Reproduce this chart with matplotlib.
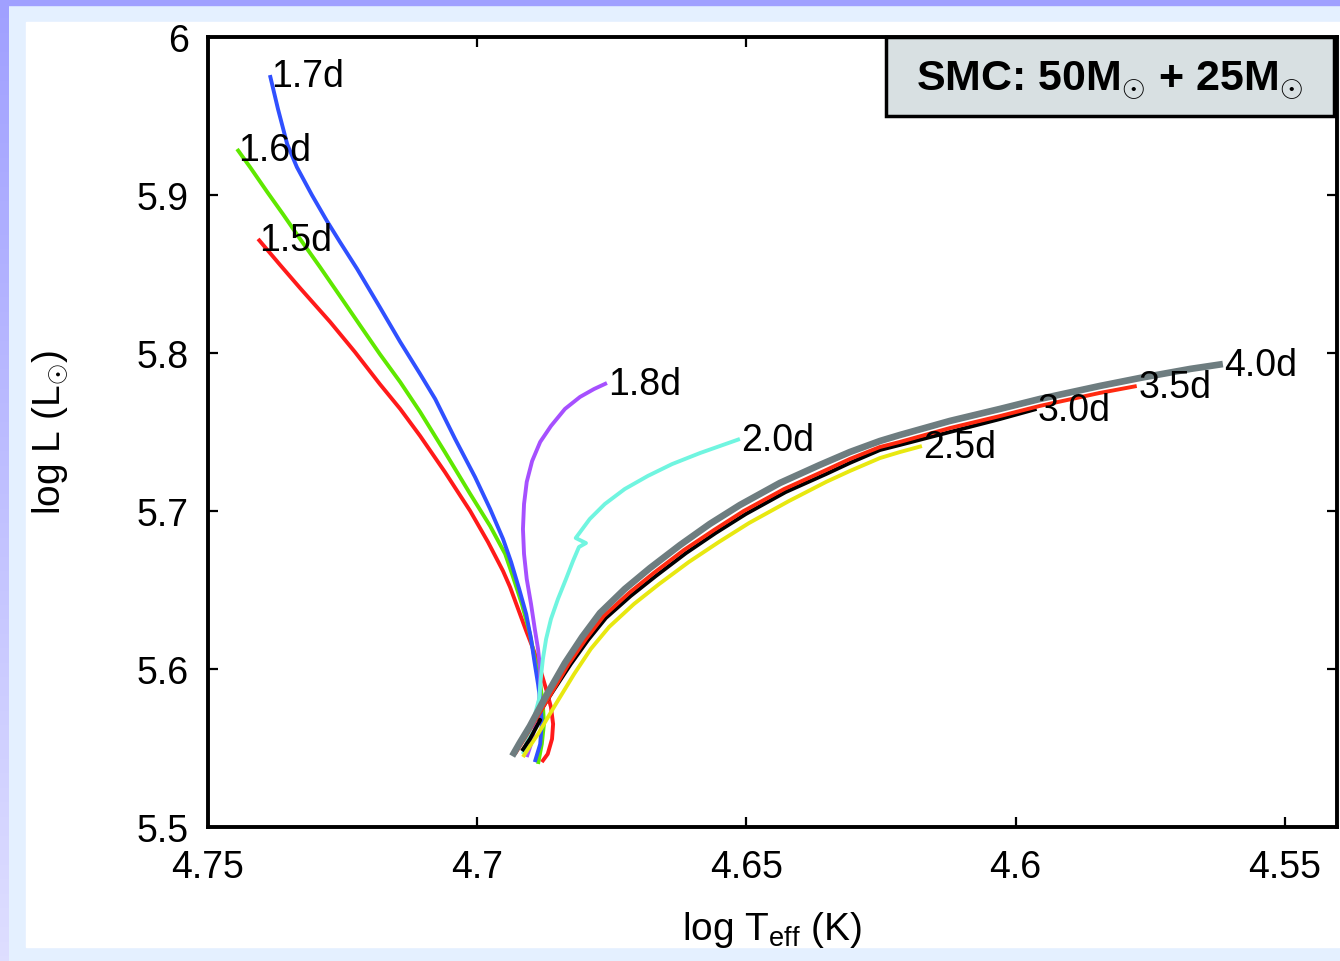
import numpy as np
import matplotlib.pyplot as plt
from matplotlib.patches import Rectangle
from matplotlib.colors import LinearSegmentedColormap

plt.rcParams['font.family'] = ['Liberation Sans', 'DejaVu Sans']
plt.rcParams['mathtext.fontset'] = 'custom'
plt.rcParams['mathtext.rm'] = 'Liberation Sans'
plt.rcParams['mathtext.it'] = 'Liberation Sans:italic'
plt.rcParams['mathtext.bf'] = 'Liberation Sans:bold'

# HR tracks of the primary for each initial orbital period (ZAMS -> end)
logT_15 = [4.6880, 4.6869, 4.6861, 4.6859, 4.6863, 4.6872, 4.6883, 4.6896, 4.6909, 4.6924, 4.6939, 4.6952,
           4.6980, 4.7013, 4.7060, 4.7106, 4.7143, 4.7181, 4.7227, 4.7273, 4.7329, 4.7366, 4.7407]
logL_15 = [5.5411, 5.5462, 5.5557, 5.5652, 5.5759, 5.5873, 5.6000, 5.6127, 5.6241, 5.6380, 5.6519, 5.6620,
           5.6804, 5.7000, 5.7247, 5.7475, 5.7646, 5.7804, 5.8006, 5.8196, 5.8411, 5.8557, 5.8722]

logT_16 = [4.6887, 4.6880, 4.6876, 4.6878, 4.6883, 4.6893, 4.6902, 4.6917, 4.6934, 4.6948, 4.6976, 4.7013,
           4.7060, 4.7106, 4.7143, 4.7181, 4.7218, 4.7255, 4.7292, 4.7329, 4.7361, 4.7390, 4.7422, 4.7446]
logL_16 = [5.5399, 5.5525, 5.5652, 5.5778, 5.5905, 5.6063, 5.6222, 5.6411, 5.6589, 5.6728, 5.6905, 5.7108,
           5.7373, 5.7627, 5.7816, 5.7994, 5.8177, 5.8361, 5.8544, 5.8722, 5.8880, 5.9019, 5.9177, 5.9291]

logT_17 = [4.6893, 4.6883, 4.6880, 4.6882, 4.6887, 4.6893, 4.6900, 4.6909, 4.6922, 4.6937, 4.6952, 4.6976, 4.7004,
           4.7041, 4.7078, 4.7106, 4.7143, 4.7181, 4.7223, 4.7255, 4.7279, 4.7307, 4.7335, 4.7353, 4.7370, 4.7385]
logL_17 = [5.5411, 5.5525, 5.5652, 5.5778, 5.5905, 5.6032, 5.6190, 5.6348, 5.6506, 5.6677, 5.6823, 5.7013, 5.7215,
           5.7456, 5.7709, 5.7867, 5.8070, 5.8291, 5.8532, 5.8703, 5.8835, 5.9000, 5.9177, 5.9323, 5.9544, 5.9759]

logT_18 = [4.6908, 4.6900, 4.6893, 4.6887, 4.6883, 4.6883, 4.6887, 4.6893, 4.6900, 4.6908, 4.6913, 4.6915,
           4.6913, 4.6908, 4.6898, 4.6883, 4.6863, 4.6837, 4.6809, 4.6783, 4.6759]
logL_18 = [5.5443, 5.5525, 5.5633, 5.5747, 5.5873, 5.6000, 5.6127, 5.6253, 5.6411, 5.6570, 5.6728, 5.6886,
           5.7044, 5.7184, 5.7316, 5.7437, 5.7538, 5.7646, 5.7722, 5.7772, 5.7810]

logT_20 = [4.6915, 4.6906, 4.6895, 4.6885, 4.6882, 4.6878, 4.6872, 4.6863, 4.6850, 4.6835, 4.6822, 4.6811,
           4.6798, 4.6817, 4.6791, 4.6763, 4.6726, 4.6683, 4.6638, 4.6586, 4.6512]
logL_20 = [5.5462, 5.5557, 5.5684, 5.5810, 5.5937, 5.6063, 5.6190, 5.6316, 5.6443, 5.6570, 5.6684, 5.6772,
           5.6797, 5.6829, 5.6949, 5.7044, 5.7139, 5.7222, 5.7297, 5.7367, 5.7456]

logT_25 = [4.6915, 4.6902, 4.6887, 4.6854, 4.6820, 4.6789, 4.6755, 4.6709, 4.6662, 4.6607, 4.6551, 4.6495,
           4.6421, 4.6352, 4.6308, 4.6252, 4.6215, 4.6174]
logL_25 = [5.5443, 5.5513, 5.5589, 5.5778, 5.5968, 5.6127, 5.6266, 5.6411, 5.6538, 5.6677, 5.6804, 5.6924,
           5.7063, 5.7184, 5.7253, 5.7335, 5.7373, 5.7411]

logT_30 = [4.6917, 4.6902, 4.6883, 4.6891, 4.6859, 4.6826, 4.6794, 4.6761, 4.6715, 4.6668, 4.6612, 4.6557,
           4.6501, 4.6427, 4.6352, 4.6308, 4.6252, 4.6215, 4.6122, 4.6029, 4.5961]
logL_30 = [5.5481, 5.5557, 5.5677, 5.5690, 5.5861, 5.6032, 5.6184, 5.6323, 5.6462, 5.6589, 5.6734, 5.6861,
           5.6981, 5.7120, 5.7234, 5.7304, 5.7386, 5.7418, 5.7500, 5.7582, 5.7646]

logT_35 = [4.6930, 4.6915, 4.6896, 4.6863, 4.6830, 4.6798, 4.6765, 4.6718, 4.6672, 4.6616, 4.6560, 4.6505,
           4.6430, 4.6356, 4.6308, 4.6252, 4.6215, 4.6122, 4.6029, 4.5955, 4.5844, 4.5775]
logL_35 = [5.5462, 5.5544, 5.5652, 5.5842, 5.6032, 5.6190, 5.6335, 5.6481, 5.6608, 5.6753, 5.6880, 5.7000,
           5.7139, 5.7253, 5.7329, 5.7405, 5.7437, 5.7525, 5.7601, 5.7665, 5.7747, 5.7791]

logT_40 = [4.6935, 4.6921, 4.6902, 4.6870, 4.6837, 4.6805, 4.6772, 4.6726, 4.6679, 4.6623, 4.6568, 4.6512,
           4.6438, 4.6364, 4.6308, 4.6252, 4.6215, 4.6122, 4.6029, 4.5955, 4.5844, 4.5769, 4.5676, 4.5615]
logL_40 = [5.5449, 5.5532, 5.5639, 5.5842, 5.6038, 5.6203, 5.6354, 5.6506, 5.6639, 5.6785, 5.6918, 5.7038,
           5.7177, 5.7291, 5.7373, 5.7443, 5.7481, 5.7570, 5.7646, 5.7709, 5.7791, 5.7842, 5.7899, 5.7930]

periods = ['1.5d', '1.6d', '1.7d', '1.8d', '2.0d', '2.5d', '3.0d', '3.5d', '4.0d']
tracks_T = [logT_15, logT_16, logT_17, logT_18, logT_20, logT_25, logT_30, logT_35, logT_40]
tracks_L = [logL_15, logL_16, logL_17, logL_18, logL_20, logL_25, logL_30, logL_35, logL_40]
colors = ['#ff1a1a', '#5fe800', '#3050ff', '#a650ff', '#70f5e0', '#e8e810', '#000000', '#ff2a10', '#6e7d80']
widths = [2.8, 2.8, 2.8, 2.8, 2.8, 2.8, 2.8, 2.8, 4.8]

xticks = [4.75, 4.7, 4.65, 4.6, 4.55]
xticklabels = ['4.75', '4.7', '4.65', '4.6', '4.55']
yticks = [5.5, 5.6, 5.7, 5.8, 5.9, 6.0]
yticklabels = ['5.5', '5.6', '5.7', '5.8', '5.9', '6']

fig = plt.figure(figsize=(13.4, 9.62), dpi=100)

# slide frame behind the plot
bg = fig.add_axes([0, 0, 1, 1], zorder=-5)
bg.add_patch(Rectangle((0, 0), 1340, 962, color='#e4f0ff', zorder=1))
edge = LinearSegmentedColormap.from_list('edge', ['#a0a0ff', '#dedeff'])
bg.imshow(np.linspace(0, 1, 200).reshape(-1, 1), cmap=edge, extent=(0, 9, 962, 0),
          aspect='auto', zorder=2)
bg.add_patch(Rectangle((0, 0), 1340, 6, color='#a0a0ff', zorder=3))
bg.add_patch(Rectangle((26, 23), 1314, 925, color='white', zorder=3))
bg.set_xlim(0, 1340)
bg.set_ylim(962, 0)
bg.axis('off')

ax = fig.add_axes([208 / 1340, 134 / 962, 1129 / 1340, 790 / 962])
ax.set_facecolor('white')

for T, L, c, w, p in zip(tracks_T, tracks_L, colors, widths, periods):
    ax.plot(T, L, color=c, lw=w, solid_joinstyle='round', solid_capstyle='butt')
    ax.annotate(p, (T[-1], L[-1]), xytext=(1, -1), textcoords='offset points',
                ha='left', va='center', fontsize=27, zorder=6)

ax.set_xlim(4.75, 4.5403)
ax.set_ylim(5.5, 6.0)
ax.set_xticks(xticks)
ax.set_xticklabels(xticklabels)
ax.set_yticks(yticks)
ax.set_yticklabels(yticklabels)
ax.tick_params(direction='in', length=7, width=1.6, top=True, right=True, labelsize=27)
ax.tick_params(axis='y', pad=14)
ax.tick_params(axis='x', pad=16)
for s in ax.spines.values():
    s.set_linewidth(2.8)

ax.text(0.5, -0.1418, r'log T$_{\rm eff}$ (K)', transform=ax.transAxes,
        ha='center', va='baseline', fontsize=28)
ax.text(-0.140, 0.5, r'log L (L$_{\odot}$)', transform=ax.transAxes,
        ha='center', va='center', rotation=90, fontsize=28)

# system label box
ax.add_patch(Rectangle((0.6005, 0.9), 0.397, 0.1, transform=ax.transAxes,
                       facecolor='#d8e0e2', edgecolor='black', lw=2.5, zorder=7, clip_on=False))
ax.text(0.799, 0.934, r'SMC: 50M$_{\odot}$ + 25M$_{\odot}$', transform=ax.transAxes,
        ha='center', va='baseline', fontsize=31, fontweight='bold', zorder=8)

fig.savefig('out.png', dpi=100)
